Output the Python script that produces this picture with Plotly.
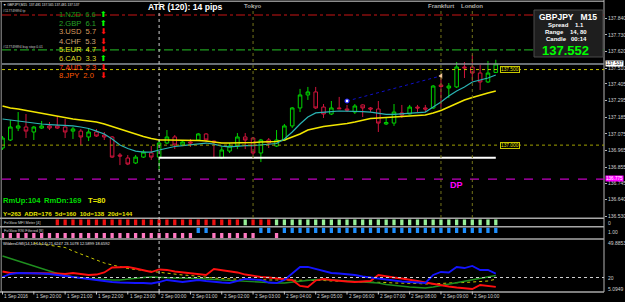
import plotly.graph_objects as go

# ---------------- data ----------------
opens = [136.981, 137.034, 137.113, 137.120, 137.087, 137.113, 137.127, 137.127, 137.120, 137.093,
         137.093, 137.054, 137.087, 137.067, 137.054, 136.935, 136.915, 136.882, 136.921, 136.948,
         136.921, 137.014, 137.054, 137.001, 137.021, 137.034, 137.074, 137.027, 136.915, 136.961,
         136.994, 137.054, 137.047, 136.948, 137.034, 136.994, 137.034, 137.127, 137.246, 137.332,
         137.352, 137.252, 137.206, 137.246, 137.239, 137.219, 137.266, 137.246, 137.239, 137.140,
         137.146, 137.213, 137.206, 137.252, 137.246, 137.246, 137.398, 137.378, 137.385, 137.517,
         137.517, 137.477, 137.418, 137.481]
highs = [137.060, 137.166, 137.219, 137.206, 137.127, 137.160, 137.153, 137.193, 137.173, 137.120,
         137.107, 137.107, 137.107, 137.087, 137.060, 136.948, 136.935, 136.935, 136.968, 136.994,
         137.034, 137.100, 137.067, 137.027, 137.041, 137.080, 137.080, 137.030, 136.988, 137.014,
         137.080, 137.080, 137.054, 137.041, 137.047, 137.100, 137.140, 137.252, 137.372, 137.385,
         137.385, 137.272, 137.292, 137.319, 137.266, 137.272, 137.270, 137.252, 137.292, 137.186,
         137.272, 137.266, 137.266, 137.266, 137.266, 137.398, 137.451, 137.411, 137.550, 137.550,
         137.597, 137.530, 137.557, 137.565]
lows = [136.968, 137.027, 137.093, 137.047, 137.034, 137.107, 137.100, 137.107, 137.047, 137.041,
        137.001, 137.027, 137.054, 137.034, 136.915, 136.868, 136.868, 136.875, 136.915, 136.902,
        136.835, 137.007, 136.974, 136.994, 136.988, 137.027, 137.021, 136.921, 136.908, 136.948,
        136.974, 136.974, 136.935, 136.888, 136.981, 136.988, 137.027, 137.113, 137.219, 137.299,
        137.239, 137.180, 137.199, 137.239, 137.219, 137.206, 137.186, 137.219, 137.087, 137.133,
        137.127, 137.180, 137.203, 137.219, 137.219, 137.239, 137.252, 137.312, 137.378, 137.444,
        137.424, 137.365, 137.411, 137.481]
closes = [137.047, 137.120, 137.127, 137.093, 137.120, 137.127, 137.113, 137.113, 137.087, 137.107,
          137.054, 137.087, 137.060, 137.054, 136.921, 136.928, 136.875, 136.921, 136.954, 136.921,
          137.014, 137.054, 137.001, 137.021, 137.014, 137.074, 137.034, 137.021, 136.968, 136.994,
          137.054, 137.034, 136.948, 137.034, 137.014, 137.034, 137.127, 137.246, 137.332, 137.352,
          137.246, 137.206, 137.246, 137.241, 137.232, 137.259, 137.246, 137.239, 137.146, 137.150,
          137.219, 137.199, 137.252, 137.246, 137.239, 137.391, 137.388, 137.391, 137.517, 137.511,
          137.477, 137.418, 137.477, 137.537]

ma_slow = [137.259, 137.246, 137.239, 137.229, 137.219, 137.209, 137.199, 137.193, 137.183, 137.173,
           137.166, 137.160, 137.153, 137.140, 137.123, 137.107, 137.090, 137.074, 137.057, 137.044,
           137.034, 137.034, 137.034, 137.034, 137.034, 137.031, 137.027, 137.021, 137.014, 137.014,
           137.014, 137.014, 137.017, 137.021, 137.021, 137.024, 137.034, 137.054, 137.074, 137.100,
           137.113, 137.123, 137.130, 137.136, 137.143, 137.153, 137.166, 137.176, 137.180, 137.183,
           137.186, 137.186, 137.189, 137.193, 137.199, 137.213, 137.229, 137.252, 137.275, 137.299,
           137.315, 137.332, 137.345, 137.358]
ma_fast = [137.173, 137.166, 137.160, 137.153, 137.146, 137.140, 137.136, 137.133, 137.133, 137.127,
           137.120, 137.110, 137.093, 137.074, 137.041, 137.001, 136.978, 136.961, 136.954, 136.954,
           136.968, 136.981, 136.991, 136.997, 137.004, 137.011, 137.014, 137.007, 136.994, 136.988,
           136.994, 136.997, 136.997, 137.001, 137.004, 137.011, 137.041, 137.087, 137.140, 137.186,
           137.213, 137.219, 137.222, 137.226, 137.226, 137.226, 137.222, 137.219, 137.213, 137.203,
           137.203, 137.206, 137.209, 137.213, 137.219, 137.252, 137.285, 137.325, 137.358, 137.385,
           137.418, 137.431, 137.444, 137.464]

# MFI meter: None = not drawn, 1 = up, 0 = down
mfi_state = [None] * 7 + [0] * 24 + [1] + [0] * 3 + [1] * 29
# RSI filtered: 1 = blue (up row), 0 = pink (down row)
rsi_state = [0] * 25 + [1] * 2 + [0] * 6 + [1] * 2 + [0] + [1] * 28

adx_main = [37.13, 35.14, 32.75, 30.76, 29.17, 26.77, 24.78, 23.19, 21.99, 20.40,
            19.60, 19.20, 18.41, 18.01, 18.01, 18.01, 18.80, 19.60, 20.00, 20.40,
            20.00, 19.60, 19.60, 19.60, 19.60, 19.20, 18.80, 18.41, 18.41, 18.01,
            17.61, 17.21, 16.41, 16.01, 15.62, 15.62, 15.62, 16.41, 17.21, 17.61,
            18.41, 18.41, 18.01, 17.61, 17.21, 16.81, 16.41, 16.01, 15.62, 14.42,
            13.62, 13.23, 12.43, 12.03, 11.63, 12.43, 13.62, 14.82, 15.62, 16.81,
            18.41, 19.60, 20.80, 21.62]
plus_di = [20.40, 22.79, 23.59, 23.59, 23.59, 23.19, 22.79, 21.99, 20.80, 20.00,
           19.20, 18.41, 17.61, 16.81, 16.41, 16.01, 15.62, 15.62, 15.62, 15.22,
           16.41, 18.01, 17.21, 16.41, 17.21, 18.01, 17.21, 16.41, 16.01, 15.62,
           17.21, 18.80, 18.41, 18.01, 16.01, 15.62, 18.01, 23.59, 28.37, 28.37,
           26.77, 25.18, 23.59, 23.19, 22.79, 21.99, 20.80, 20.00, 18.80, 18.01,
           17.21, 16.81, 16.41, 16.01, 15.62, 21.99, 24.38, 23.99, 28.37, 27.57,
           29.17, 25.98, 25.98, 23.11]
minus_di = [24.78, 23.59, 23.59, 23.59, 23.59, 23.59, 23.59, 23.19, 22.79, 23.59,
            22.79, 21.99, 22.39, 23.99, 27.97, 28.37, 28.37, 27.17, 25.58, 24.38,
            26.38, 25.98, 24.78, 23.99, 23.19, 22.79, 21.99, 26.77, 25.98, 24.78,
            23.99, 22.39, 21.20, 20.40, 20.00, 19.20, 18.80, 18.01, 13.23, 12.43,
            17.61, 18.80, 18.01, 17.21, 16.81, 16.41, 16.81, 17.21, 21.99, 20.80,
            20.00, 19.20, 18.41, 17.21, 16.01, 14.82, 13.62, 12.83, 12.03, 11.63,
            10.83, 14.02, 13.23, 12.59]
adxr = [None, None, None, None, 47.50, 46.70, 45.50, 44.71, 43.91, 41.12,
        38.73, 36.34, 33.55, 31.56, 29.96, 28.37, 27.17, 26.38, 25.58, 24.78,
        23.99, 23.59, 22.79, 21.99, 21.59, 20.80, 20.00, 19.60, 19.20, 18.80,
        18.80, 18.41, 18.41, 18.01, 18.01, 18.01, 18.01, 18.01, 18.01, 18.01,
        17.61, 17.61, 17.21, 17.21, 17.21, 16.81, 16.41, 16.41, 16.41, 16.01,
        15.62, 15.62, 15.62, 15.22, 14.82, 14.82, 15.22, 15.62, 15.62, 16.01,
        16.41, 16.81, 17.21, 18.66]

time_labels = ['1 Sep 2016', '1 Sep 20:00', '1 Sep 21:00', '1 Sep 22:00', '1 Sep 23:00',
               '2 Sep 00:00', '2 Sep 01:00', '2 Sep 02:00', '2 Sep 03:00', '2 Sep 04:00',
               '2 Sep 05:00', '2 Sep 06:00', '2 Sep 07:00', '2 Sep 08:00', '2 Sep 09:00',
               '2 Sep 10:00']
time_label_bars = [0, 4, 8, 12, 16, 20, 24, 28, 32, 36, 40, 44, 48, 52, 56, 60]

price_ticks = [137.840, 137.730, 137.620, 137.510, 137.405, 137.295, 137.185,
               137.075, 136.965, 136.855, 136.745, 136.640, 136.530]

level_tp = 137.861
level_buystop = 137.630
level_bid = 137.537
level_round_hi = 137.500
level_round_lo = 137.000
level_white = 136.917
level_dp = 136.775

trend_bars = [44, 56]
trend_prices = [137.292, 137.458]

sessions = ['Tokyo', 'Frankfurt', 'London']
session_bars = [32, 56, 60]
day_start_bar = 20
white_line_bars = [20, 63]

strength_names = ['1.NZD', '2.GBP', '3.USD', '4.CHF', '5.EUR', '6.CAD', '7.AUD', '8.JPY']
strength_values = [6.6, 6.1, 5.7, 5.3, 4.7, 3.3, 2.3, 2.0]
strength_up = [True, True, False, False, False, True, False, False]

# ---------------- styling / layout helpers ----------------
W, H = 625, 302
FONT = 'Liberation Sans'
X0_PX, X1_PX = 2.0, 604.0
BAR0_PX, STEP_PX = 2.5, 7.83
x_lo = (X0_PX - BAR0_PX) / STEP_PX
x_hi = (X1_PX - BAR0_PX) / STEP_PX


def fx(p):
    return p / W


def fy(p):
    return 1 - p / H


bars = list(range(len(opens)))

fig = go.Figure()

fig.add_trace(go.Candlestick(
    x=bars, open=opens, high=highs, low=lows, close=closes,
    increasing=dict(line=dict(color='#00d400', width=1), fillcolor='#000000'),
    decreasing=dict(line=dict(color='#d0143c', width=1), fillcolor='#000000'),
    whiskerwidth=0, showlegend=False, hoverinfo='skip', xaxis='x', yaxis='y'))

fig.add_trace(go.Scatter(x=bars, y=ma_slow, mode='lines',
                         line=dict(color='#f2e600', width=1.6), yaxis='y', hoverinfo='skip'))
fig.add_trace(go.Scatter(x=bars, y=ma_fast, mode='lines',
                         line=dict(color='#2ab4b4', width=1.2), yaxis='y', hoverinfo='skip'))
fig.add_trace(go.Scatter(x=trend_bars, y=trend_prices, mode='lines',
                         line=dict(color='#1010c8', width=1, dash='dot'), yaxis='y', hoverinfo='skip'))
fig.add_trace(go.Scatter(x=[trend_bars[0]], y=[trend_prices[0]], mode='markers',
                         marker=dict(symbol='circle', size=4, color='#ffffff',
                                     line=dict(color='#2020ff', width=1.2)), yaxis='y', hoverinfo='skip'))
fig.add_trace(go.Scatter(x=[trend_bars[1]], y=[trend_prices[1]], mode='markers',
                         marker=dict(symbol='triangle-left', size=5, color='#f5c89a'),
                         yaxis='y', hoverinfo='skip'))

# MFI strip
mfi_x = [b for b, s in zip(bars, mfi_state) if s is not None]
mfi_c = ['#98f098' if s == 1 else '#ee1111' for s in mfi_state if s is not None]
fig.add_trace(go.Bar(x=mfi_x, y=[1] * len(mfi_x), base=0, width=0.42,
                     marker=dict(color=mfi_c, line=dict(width=0)), yaxis='y2', hoverinfo='skip'))
# RSI strip
up_x = [b for b, s in zip(bars, rsi_state) if s == 1]
dn_x = [b for b, s in zip(bars, rsi_state) if s == 0]
fig.add_trace(go.Bar(x=up_x, y=[1] * len(up_x), base=1, width=0.42,
                     marker=dict(color='#1e90ff', line=dict(width=0)), yaxis='y3', hoverinfo='skip'))
fig.add_trace(go.Bar(x=dn_x, y=[1] * len(dn_x), base=0, width=0.42,
                     marker=dict(color='#ff78c0', line=dict(width=0)), yaxis='y3', hoverinfo='skip'))

# ADX pane
fig.add_trace(go.Scatter(x=bars, y=adxr, mode='lines',
                         line=dict(color='#c8c800', width=1, dash='dot'), yaxis='y4', hoverinfo='skip'))
fig.add_trace(go.Scatter(x=bars, y=adx_main, mode='lines',
                         line=dict(color='#1f8f1f', width=1.4), yaxis='y4', hoverinfo='skip'))
fig.add_trace(go.Scatter(x=bars, y=minus_di, mode='lines',
                         line=dict(color='#ff1010', width=1.8), yaxis='y4', hoverinfo='skip'))
fig.add_trace(go.Scatter(x=bars, y=plus_di, mode='lines',
                         line=dict(color='#1414ff', width=1.8), yaxis='y4', hoverinfo='skip'))

shapes = []
# borders / separators
GRAY = '#a8a8a8'
shapes.append(dict(type='line', xref='paper', yref='paper', x0=0, x1=fx(X1_PX), y0=fy(1.2), y1=fy(1.2),
                   line=dict(color='#8c8c8c', width=1.5)))
shapes.append(dict(type='line', xref='paper', yref='paper', x0=fx(1.2), x1=fx(1.2), y0=fy(1), y1=fy(292),
                   line=dict(color='#9a9a9a', width=1)))
shapes.append(dict(type='line', xref='paper', yref='paper', x0=fx(X1_PX), x1=fx(X1_PX), y0=fy(0), y1=fy(292),
                   line=dict(color='#b4b4b4', width=1)))
for yy in (218.3, 226.8, 239.0, 292.0):
    shapes.append(dict(type='line', xref='paper', yref='paper', x0=0, x1=fx(X1_PX), y0=fy(yy), y1=fy(yy),
                       line=dict(color=GRAY, width=1.6)))
# horizontal levels in price pane
full = dict(xref='paper', x0=fx(X0_PX), x1=fx(X1_PX), yref='y')
shapes.append(dict(type='line', y0=level_tp, y1=level_tp, line=dict(color='#c81414', width=1.2, dash='dashdot'), **full))
shapes.append(dict(type='line', y0=level_buystop, y1=level_buystop, line=dict(color='#1e9a1e', width=1.2, dash='dashdot'), **full))
shapes.append(dict(type='line', y0=level_bid, y1=level_bid, line=dict(color='#8c949c', width=1.5), **full))
shapes.append(dict(type='line', y0=level_round_hi, y1=level_round_hi, line=dict(color='#c8c800', width=1, dash='dot'), **full))
shapes.append(dict(type='line', y0=level_round_lo, y1=level_round_lo, line=dict(color='#a0a000', width=1, dash='dot'), **full))
shapes.append(dict(type='line', y0=level_dp, y1=level_dp, line=dict(color='#c000c0', width=1.4, dash='dash'), **full))
shapes.append(dict(type='line', xref='x', yref='y', x0=white_line_bars[0], x1=white_line_bars[1],
                   y0=level_white, y1=level_white, line=dict(color='#ffffff', width=2)))
# vertical lines
shapes.append(dict(type='line', xref='x', yref='paper', x0=day_start_bar, x1=day_start_bar,
                   y0=fy(292), y1=fy(2), line=dict(color='#d0d0d0', width=1, dash='dot')))
for sb in session_bars:
    shapes.append(dict(type='line', xref='x', yref='paper', x0=sb, x1=sb, y0=fy(218), y1=fy(2),
                       line=dict(color='#74741a', width=1, dash='dot')))
# ADX level 20
shapes.append(dict(type='line', xref='paper', yref='y4', x0=fx(X0_PX), x1=fx(X1_PX), y0=20, y1=20,
                   line=dict(color='#d0d0d0', width=1, dash='dot')))
# time ticks
for b in time_label_bars:
    shapes.append(dict(type='line', xref='x', yref='paper', x0=b, x1=b, y0=fy(291.5), y1=fy(294.5),
                       line=dict(color='#c8c8c8', width=1)))
# info box
shapes.append(dict(type='rect', xref='paper', yref='paper', x0=fx(534), x1=fx(603), y0=fy(57), y1=fy(10),
                   fillcolor='#1e1e1e', line=dict(color='#4a4a4a', width=1), layer='above'))

ann = []


def text(xp, yp, s, size, color, anchor='left', bold=False, bg=None, border=None, xref='paper'):
    d = dict(xref=xref, yref='paper', x=(xp if xref != 'paper' else fx(xp)), y=fy(yp),
             text=('<b>%s</b>' % s) if bold else s, showarrow=False, xanchor=anchor, yanchor='middle',
             font=dict(family=FONT, size=size, color=color), borderpad=0)
    if bg:
        d['bgcolor'] = bg
    if border:
        d['bordercolor'] = border
        d['borderwidth'] = 1
    ann.append(d)


text(2, 5, '▼ GBPJPY,M15  137.481 137.565 137.481 137.537', 3.3, '#e0e0e0')
text(2, 11, '#117749894 tp', 3.4, '#c8c8c8')
text(2, 47, '#117749894 buy stop 0.01', 3.4, '#c8c8c8')
text(147, 7.5, 'ATR (120): 14 pips', 8.6, '#ffffff', bold=True)
for name, sb in zip(sessions, session_bars):
    text(sb, 6, name, 6, '#a8a8a8', anchor='center', bold=True, xref='x')

s_colors = ['#179017', '#26a026', '#d89a5c', '#d0a474', '#e6e020', '#dcd82a', '#ff3a12', '#ff5a00']
row_y = [14, 23, 32, 41, 50, 58.7, 67, 76]
for nm, v, up, c, yy in zip(strength_names, strength_values, strength_up, s_colors, row_y):
    text(58, yy, '%s  %.1f' % (nm, v), 7.6, c)
    text(103, yy, '⬆' if up else '⬇', 7.5, '#00ff00' if up else '#ff1010', anchor='center')

text(568, 17, 'GBPJPY   M15', 8.5, '#ffffff', anchor='center', bold=True)
text(566, 25, 'Spread    1.1', 6.0, '#ffffff', anchor='center', bold=True)
text(566, 32, 'Range    14, 80', 6.0, '#ffffff', anchor='center', bold=True)
text(566, 39, 'Candle   00:14', 6.0, '#ffffff', anchor='center', bold=True)
text(565, 50.5, '137.552', 13, '#00ff00', anchor='center', bold=True)

text(500, 69.5, '137.500', 4.8, '#e0e000', bg='#000000', border='#c8c800')
text(500, 145, '137.000', 4.8, '#e0e000', bg='#000000', border='#c8c800')
text(605, 63.2, '137.537', 4.6, '#000000', bg='#ffffff')
text(605, 178.6, '136.775', 4.6, '#ffffff', bg='#ff00ff')

text(456, 185, 'DP', 9, '#ff00ff', anchor='center', bold=True)
text(2, 200, 'RmUp:104', 7.6, '#00dd00', bold=True)
text(43, 200, 'RmDn:169', 7.6, '#00dd00', bold=True)
text(87, 200, 'T=80', 7.6, '#e6e600', bold=True)
text(2, 213, 'Y=263  ADR=176  5d=160  10d=138  20d=144', 6.2, '#e6e600', bold=True)

text(3, 222.5, 'FxGlow MFI Meter [4]', 3.8, '#d0d0d0')
text(3, 231, 'FxGlow RSI Filtered [8]', 3.8, '#d0d0d0')
text(2, 243, 'WildersDMI(14,14,14,14) 21.6247 23.1078 12.5899 18.6592', 4.0, '#e8e8e8')
text(607, 223, '0', 5, '#d0d0d0')
text(607, 232, '1.00', 5, '#d0d0d0')
text(607, 242.5, '49.8853', 5, '#d0d0d0')
text(607, 277.5, '20', 5, '#d0d0d0')
text(607, 289, '5.0949', 5, '#d0d0d0')

for lbl, b in zip(time_labels, time_label_bars):
    text(b + 0.1, 296.5, lbl, 4.7, '#d0d0d0', xref='x')

fig.update_layout(
    width=W, height=H, margin=dict(l=0, r=0, t=0, b=0),
    paper_bgcolor='#000000', plot_bgcolor='#000000',
    showlegend=False, barmode='overlay', boxgap=0.35,
    xaxis=dict(domain=[fx(X0_PX), fx(X1_PX)], range=[x_lo, x_hi], showticklabels=False,
               showgrid=False, zeroline=False, showline=False, ticks='',
               rangeslider=dict(visible=False), anchor='y4'),
    yaxis=dict(domain=[fy(218), fy(2)], range=[136.518, 137.947], side='right',
               tickvals=price_ticks, ticktext=['%.3f' % v for v in price_ticks],
               tickfont=dict(family=FONT, size=5, color='#d0d0d0'), ticks='outside', ticklen=2,
               tickcolor='#b4b4b4', showgrid=False, zeroline=False, showline=False, anchor='x'),
    yaxis2=dict(domain=[fy(225.6), fy(219.3)], range=[0, 1], visible=False, anchor='x'),
    yaxis3=dict(domain=[fy(238.2), fy(227.6)], range=[0, 2], visible=False, anchor='x'),
    yaxis4=dict(domain=[fy(292), fy(240)], range=[8.44, 49.8853], showticklabels=False,
                showgrid=False, zeroline=False, showline=False, ticks='', anchor='x'),
    shapes=shapes, annotations=ann,
)

fig.write_html('out.html', config={'displayModeBar': False})
